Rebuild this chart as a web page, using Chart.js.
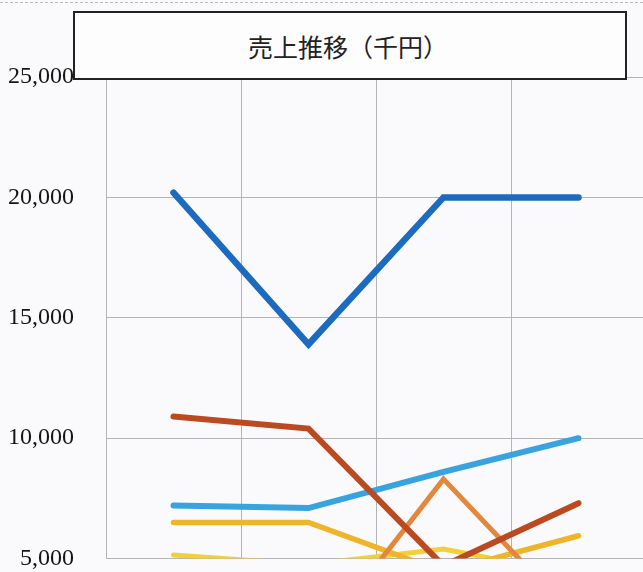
<!DOCTYPE html>
<html lang="ja">
<head>
<meta charset="utf-8">
<title>売上推移（千円）</title>
<script src="https://cdn.jsdelivr.net/npm/chart.js@4.4.1/dist/chart.umd.min.js"></script>
<style>
    html, body {
        margin: 0;
        padding: 0;
        width: 643px;
        height: 572px;
        overflow: hidden;
        background: #fafafc;
    }
    #salesChart {
        position: absolute;
        left: 0;
        top: 0;
    }
    #edge {
        position: absolute;
        left: 0;
        top: 2px;
        width: 643px;
        border-top: 1px dashed #b8b8bc;
    }
    #title-box {
        position: absolute;
        left: 73px;
        top: 11px;
        width: 546px;
        height: 65px;
        border: 2px solid #222;
        background: #fdfdfe;
        box-sizing: content-box;
        display: flex;
        align-items: center;
        justify-content: center;
        padding-right: 4px;
        font-family: "Noto Sans CJK JP", sans-serif;
        font-size: 25px;
        color: #222;
    }
</style>
</head>
<body>
<div id="edge"></div>
<canvas id="salesChart" width="660" height="605"></canvas>
<div id="title-box">売上推移（千円）</div>

<script>
// カテゴリ（下の軸ラベルは写真の外）
const periods = ['第1期', '第2期', '第3期', '第4期'];

// 縦軸の目盛り
const yTickValues = [5000, 10000, 15000, 20000, 25000];

// 各系列（千円）
const seriesNavy = [20200, 13900, 20000, 20000];
const seriesRust = [10900, 10400, 4700, 7300];
const seriesOrange = [1500, 1100, 8300, 2400];
const seriesSky = [7200, 7100, 8600, 10000];
const seriesGold = [6500, 6500, 4450, 5950];
const seriesYellow = [5150, 4750, 5400, 4300];

const lineStyle = (label, data, color, width) => ({
    label: label,
    data: data,
    borderColor: color,
    backgroundColor: color,
    borderWidth: width,
    borderCapStyle: 'round',
    borderJoinStyle: 'miter',
    pointRadius: 0,
    pointHoverRadius: 0,
    tension: 0,
    fill: false,
    clip: 0
});

const ctx = document.getElementById('salesChart').getContext('2d');
new Chart(ctx, {
    type: 'line',
    data: {
        labels: periods,
        datasets: [
            lineStyle('系列1', seriesNavy, '#1c6bbf', 6.5),
            lineStyle('系列2', seriesRust, '#bb4a20', 6),
            lineStyle('系列3', seriesOrange, '#e2873c', 5),
            lineStyle('系列4', seriesSky, '#38a3df', 6),
            lineStyle('系列5', seriesGold, '#eeb52a', 5.5),
            lineStyle('系列6', seriesYellow, '#f3cf3a', 5)
        ]
    },
    options: {
        responsive: false,
        animation: false,
        layout: {
            padding: { top: 77, right: 14, bottom: 22, left: 0 }
        },
        plugins: {
            legend: { display: false },
            title: { display: false },
            tooltip: { enabled: false }
        },
        scales: {
            x: {
                offset: true,
                afterFit: scale => {
                    scale.height = 0;
                },
                grid: {
                    offset: true,
                    color: '#b4b4b8',
                    lineWidth: 1,
                    drawTicks: false
                },
                border: { display: false },
                ticks: { display: false }
            },
            y: {
                min: 5000,
                max: 25000,
                afterBuildTicks: scale => {
                    scale.ticks = yTickValues.map(v => ({ value: v }));
                },
                afterFit: scale => {
                    scale.width = 106;
                },
                grid: {
                    color: '#b4b4b8',
                    lineWidth: 1,
                    drawTicks: false
                },
                border: { color: '#b4b4b8' },
                ticks: {
                    padding: 32,
                    color: '#151515',
                    font: { family: '"Liberation Serif", "DejaVu Serif", serif', size: 24 },
                    callback: value => Number(value).toLocaleString('en-US')
                }
            }
        }
    }
});
</script>
</body>
</html>
